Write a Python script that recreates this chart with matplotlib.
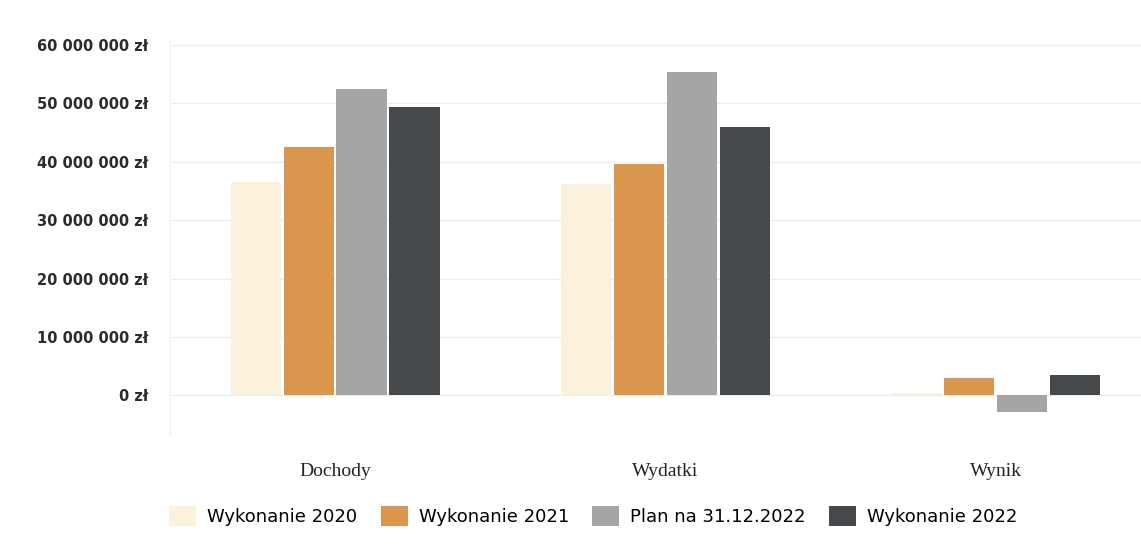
import numpy as np
import matplotlib.pyplot as plt
from matplotlib.ticker import FuncFormatter

categories = ["Dochody", "Wydatki", "Wynik"]
series_names = ["Wykonanie 2020", "Wykonanie 2021", "Plan na 31.12.2022", "Wykonanie 2022"]

# values in zł
wykonanie_2020 = [36_600_000, 36_200_000, 400_000]
wykonanie_2021 = [42_600_000, 39_700_000, 2_900_000]
plan_2022 = [52_500_000, 55_400_000, -2_900_000]
wykonanie_2022 = [49_400_000, 45_900_000, 3_500_000]

yticks = [0, 10_000_000, 20_000_000, 30_000_000, 40_000_000, 50_000_000, 60_000_000]

colors = ["#fcf1da", "#d9964c", "#a5a5a5", "#45494c"]
series = [wykonanie_2020, wykonanie_2021, plan_2022, wykonanie_2022]

fig = plt.figure(figsize=(11.41, 5.49), dpi=100)
ax = fig.add_axes([0.149, 0.207, 0.851, 0.72])

x = np.arange(len(categories))
width = 0.152
step = 0.16
for i, (vals, col, name) in enumerate(zip(series, colors, series_names)):
    ax.bar(x + (i - 1.5) * step, vals, width, color=col, label=name, zorder=2)

ax.set_xlim(-0.5, 2.44)
ax.set_ylim(-6_860_000, 60_860_000)
ax.set_yticks(yticks)


def zl(v, pos):
    return f"{int(v):,}".replace(",", " ") + " zł"


ax.yaxis.set_major_formatter(FuncFormatter(zl))
ax.tick_params(axis='y', length=0, pad=16, labelsize=10.5, labelcolor="#2b2b2b")
ax.set_xticks(x)
ax.set_xticklabels(categories, fontfamily="Liberation Serif", fontsize=14, color="#222222")
ax.tick_params(axis='x', length=0, pad=20)
for lbl in ax.get_yticklabels():
    lbl.set_fontweight('bold')

ax.grid(axis='y', color="#ececec", linewidth=0.8, zorder=0)
for s in ["top", "right", "bottom"]:
    ax.spines[s].set_visible(False)
ax.spines["left"].set_color("#eeeeee")

fig.legend(loc="center", bbox_to_anchor=(0.52, 0.06), ncol=4, frameon=False,
           fontsize=13, handlelength=1.5, handleheight=1.4, columnspacing=1.3,
           handletextpad=0.6)

fig.savefig("out.png", dpi=100)
